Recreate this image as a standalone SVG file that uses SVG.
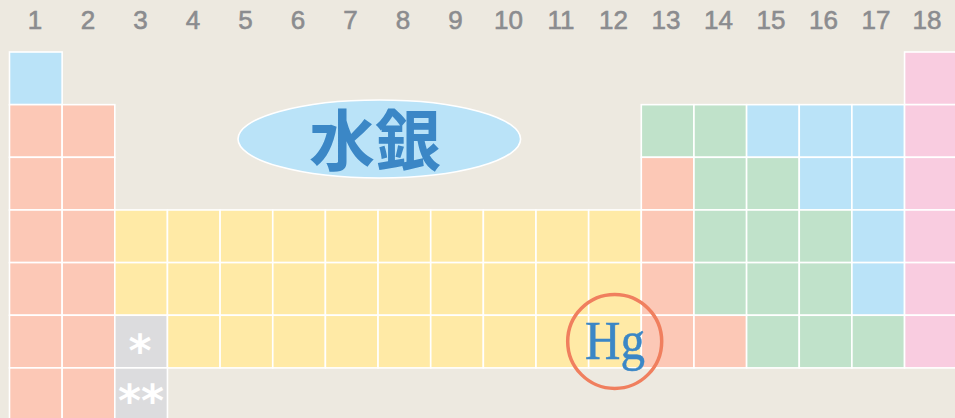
<svg xmlns="http://www.w3.org/2000/svg" width="955" height="418" viewBox="0 0 955 418">
<style>
.c{stroke:#ffffff;stroke-width:1.6}
.b{fill:#BAE3F8}.s{fill:#FCC8B6}.y{fill:#FFEAA6}.g{fill:#C0E2CA}.p{fill:#F9CCE0}.k{fill:#DCDCDE}
.n{font-family:"Liberation Sans",Arial,sans-serif;font-size:26px;fill:#8B8C8F;stroke:#8B8C8F;stroke-width:0.6;text-anchor:middle}
.a{font-family:"DejaVu Sans",sans-serif;font-weight:700;font-size:44px;fill:#ffffff;text-anchor:middle}
</style>
<rect width="955" height="418" fill="#EDE9E0"/>
<g id="group-numbers">
<text class="n" x="35" y="29">1</text>
<text class="n" x="88" y="29">2</text>
<text class="n" x="140.5" y="29">3</text>
<text class="n" x="193" y="29">4</text>
<text class="n" x="245.5" y="29">5</text>
<text class="n" x="298" y="29">6</text>
<text class="n" x="350.5" y="29">7</text>
<text class="n" x="403" y="29">8</text>
<text class="n" x="455.5" y="29">9</text>
<text class="n" x="508.5" y="29">10</text>
<text class="n" x="561" y="29">11</text>
<text class="n" x="613.5" y="29">12</text>
<text class="n" x="666" y="29">13</text>
<text class="n" x="718.5" y="29">14</text>
<text class="n" x="771" y="29">15</text>
<text class="n" x="823.5" y="29">16</text>
<text class="n" x="876" y="29">17</text>
<text class="n" x="927" y="29">18</text>
</g>
<g id="table">
<!-- row 1 -->
<rect class="c b" x="9.5" y="52" width="52.65" height="52.65"/>
<rect class="c p" x="904.55" y="52" width="52.65" height="52.65"/>
<!-- row 2 -->
<rect class="c s" x="9.5" y="104.65" width="52.65" height="52.65"/>
<rect class="c s" x="62.15" y="104.65" width="52.65" height="52.65"/>
<rect class="c g" x="641.3" y="104.65" width="52.65" height="52.65"/>
<rect class="c g" x="693.95" y="104.65" width="52.65" height="52.65"/>
<rect class="c b" x="746.6" y="104.65" width="52.65" height="52.65"/>
<rect class="c b" x="799.25" y="104.65" width="52.65" height="52.65"/>
<rect class="c b" x="851.9" y="104.65" width="52.65" height="52.65"/>
<rect class="c p" x="904.55" y="104.65" width="52.65" height="52.65"/>
<!-- row 3 -->
<rect class="c s" x="9.5" y="157.3" width="52.65" height="52.65"/>
<rect class="c s" x="62.15" y="157.3" width="52.65" height="52.65"/>
<rect class="c s" x="641.3" y="157.3" width="52.65" height="52.65"/>
<rect class="c g" x="693.95" y="157.3" width="52.65" height="52.65"/>
<rect class="c g" x="746.6" y="157.3" width="52.65" height="52.65"/>
<rect class="c b" x="799.25" y="157.3" width="52.65" height="52.65"/>
<rect class="c b" x="851.9" y="157.3" width="52.65" height="52.65"/>
<rect class="c p" x="904.55" y="157.3" width="52.65" height="52.65"/>
<!-- row 4 -->
<rect class="c s" x="9.5" y="209.95" width="52.65" height="52.65"/>
<rect class="c s" x="62.15" y="209.95" width="52.65" height="52.65"/>
<rect class="c y" x="114.8" y="209.95" width="52.65" height="52.65"/>
<rect class="c y" x="167.45" y="209.95" width="52.65" height="52.65"/>
<rect class="c y" x="220.1" y="209.95" width="52.65" height="52.65"/>
<rect class="c y" x="272.75" y="209.95" width="52.65" height="52.65"/>
<rect class="c y" x="325.4" y="209.95" width="52.65" height="52.65"/>
<rect class="c y" x="378.05" y="209.95" width="52.65" height="52.65"/>
<rect class="c y" x="430.7" y="209.95" width="52.65" height="52.65"/>
<rect class="c y" x="483.35" y="209.95" width="52.65" height="52.65"/>
<rect class="c y" x="536" y="209.95" width="52.65" height="52.65"/>
<rect class="c y" x="588.65" y="209.95" width="52.65" height="52.65"/>
<rect class="c s" x="641.3" y="209.95" width="52.65" height="52.65"/>
<rect class="c g" x="693.95" y="209.95" width="52.65" height="52.65"/>
<rect class="c g" x="746.6" y="209.95" width="52.65" height="52.65"/>
<rect class="c g" x="799.25" y="209.95" width="52.65" height="52.65"/>
<rect class="c b" x="851.9" y="209.95" width="52.65" height="52.65"/>
<rect class="c p" x="904.55" y="209.95" width="52.65" height="52.65"/>
<!-- row 5 -->
<rect class="c s" x="9.5" y="262.6" width="52.65" height="52.65"/>
<rect class="c s" x="62.15" y="262.6" width="52.65" height="52.65"/>
<rect class="c y" x="114.8" y="262.6" width="52.65" height="52.65"/>
<rect class="c y" x="167.45" y="262.6" width="52.65" height="52.65"/>
<rect class="c y" x="220.1" y="262.6" width="52.65" height="52.65"/>
<rect class="c y" x="272.75" y="262.6" width="52.65" height="52.65"/>
<rect class="c y" x="325.4" y="262.6" width="52.65" height="52.65"/>
<rect class="c y" x="378.05" y="262.6" width="52.65" height="52.65"/>
<rect class="c y" x="430.7" y="262.6" width="52.65" height="52.65"/>
<rect class="c y" x="483.35" y="262.6" width="52.65" height="52.65"/>
<rect class="c y" x="536" y="262.6" width="52.65" height="52.65"/>
<rect class="c y" x="588.65" y="262.6" width="52.65" height="52.65"/>
<rect class="c s" x="641.3" y="262.6" width="52.65" height="52.65"/>
<rect class="c g" x="693.95" y="262.6" width="52.65" height="52.65"/>
<rect class="c g" x="746.6" y="262.6" width="52.65" height="52.65"/>
<rect class="c g" x="799.25" y="262.6" width="52.65" height="52.65"/>
<rect class="c b" x="851.9" y="262.6" width="52.65" height="52.65"/>
<rect class="c p" x="904.55" y="262.6" width="52.65" height="52.65"/>
<!-- row 6 -->
<rect class="c s" x="9.5" y="315.25" width="52.65" height="52.65"/>
<rect class="c s" x="62.15" y="315.25" width="52.65" height="52.65"/>
<rect class="c k" x="114.8" y="315.25" width="52.65" height="52.65"/>
<rect class="c y" x="167.45" y="315.25" width="52.65" height="52.65"/>
<rect class="c y" x="220.1" y="315.25" width="52.65" height="52.65"/>
<rect class="c y" x="272.75" y="315.25" width="52.65" height="52.65"/>
<rect class="c y" x="325.4" y="315.25" width="52.65" height="52.65"/>
<rect class="c y" x="378.05" y="315.25" width="52.65" height="52.65"/>
<rect class="c y" x="430.7" y="315.25" width="52.65" height="52.65"/>
<rect class="c y" x="483.35" y="315.25" width="52.65" height="52.65"/>
<rect class="c y" x="536" y="315.25" width="52.65" height="52.65"/>
<rect class="c y" x="588.65" y="315.25" width="52.65" height="52.65"/>
<rect class="c s" x="641.3" y="315.25" width="52.65" height="52.65"/>
<rect class="c s" x="693.95" y="315.25" width="52.65" height="52.65"/>
<rect class="c g" x="746.6" y="315.25" width="52.65" height="52.65"/>
<rect class="c g" x="799.25" y="315.25" width="52.65" height="52.65"/>
<rect class="c g" x="851.9" y="315.25" width="52.65" height="52.65"/>
<rect class="c p" x="904.55" y="315.25" width="52.65" height="52.65"/>
<!-- row 7 -->
<rect class="c s" x="9.5" y="367.9" width="52.65" height="52.65"/>
<rect class="c s" x="62.15" y="367.9" width="52.65" height="52.65"/>
<rect class="c k" x="114.8" y="367.9" width="52.65" height="52.65"/>
<text class="a" x="140" y="366">*</text>
<text class="a" x="141" y="416">**</text>
</g>
<g id="label-suigin">
<ellipse cx="379.3" cy="139" rx="141.3" ry="39" fill="#BAE3F8" stroke="#ffffff" stroke-width="1.6"/>
<text x="375" y="136" dominant-baseline="central" text-anchor="middle" font-family="'Noto Sans CJK JP','Noto Sans CJK SC',sans-serif" font-weight="700" font-size="66" fill="#3B87C6">水銀</text>
</g>
<g id="marker-hg">
<text x="585" y="359" font-family="'Liberation Serif','Times New Roman',serif" font-size="55" textLength="60" lengthAdjust="spacingAndGlyphs" fill="#3B87C6" stroke="#3B87C6" stroke-width="0.5">Hg</text>
<circle cx="614.7" cy="341.4" r="47" fill="none" stroke="#F07F5E" stroke-width="3.5"/>
</g>
</svg>
